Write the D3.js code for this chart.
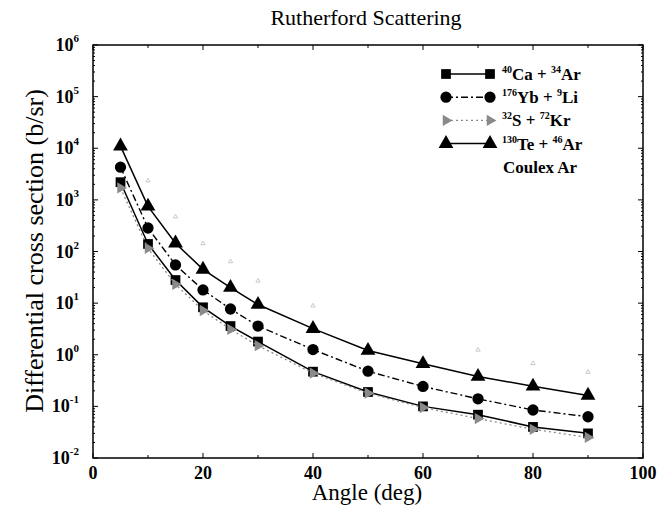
<!DOCTYPE html>
<html><head><meta charset="utf-8">
<script src="https://cdn.jsdelivr.net/npm/d3@7/dist/d3.min.js"></script>
<style>body{margin:0;background:#fff}</style>
</head><body><svg id="c" width="667" height="509" font-family="'Liberation Serif', Tinos, 'DejaVu Serif', serif"></svg>
<script>
const angles = [5,10,15,20,25,30,40,50,60,70,80,90];
const caAr = [2200,140,28,8.3,3.6,1.8,0.47,0.19,0.10,0.069,0.040,0.030];
const ybLi = [4300,285,55,18,7.7,3.6,1.26,0.48,0.243,0.14,0.085,0.063];
const sKr  = [1700,115,23,7.2,3.1,1.5,0.44,0.18,0.095,0.058,0.036,0.025];
const teAr = [11000,750,145,45,20,9.4,3.2,1.21,0.67,0.38,0.245,0.163];
const coulexAr = [null,2350,470,143,64,27,8.9,null,null,1.24,0.68,0.46];
const xTicks = [0,20,40,60,80,100];
const yExps = [-2,-1,0,1,2,3,4,5,6];

const svg = d3.select("#c");
const L=93,R=643,T=45,B=458;
const x = d3.scaleLinear().domain([0,100]).range([L,R]);
const y = d3.scaleLog().domain([1e-2,1e6]).range([B,T]);

svg.append("rect").attr("x",L).attr("y",T).attr("width",R-L).attr("height",B-T)
  .attr("fill","none").attr("stroke","#000").attr("stroke-width",1.5);

const g = svg.append("g").attr("stroke","#000").attr("stroke-width",1);
d3.range(0,101,10).forEach(v=>{
  const len = v%20===0?5:3;
  g.append("line").attr("x1",x(v)).attr("x2",x(v)).attr("y1",B).attr("y2",B-len);
  g.append("line").attr("x1",x(v)).attr("x2",x(v)).attr("y1",T).attr("y2",T+len);
});
yExps.forEach(e=>{
  const v=Math.pow(10,e);
  g.append("line").attr("x1",L).attr("x2",L+5).attr("y1",y(v)).attr("y2",y(v));
  g.append("line").attr("x1",R).attr("x2",R-5).attr("y1",y(v)).attr("y2",y(v));
  if(e<6) for(let k=2;k<10;k++){
    const vv=k*v;
    g.append("line").attr("x1",L).attr("x2",L+2).attr("y1",y(vv)).attr("y2",y(vv));
    g.append("line").attr("x1",R).attr("x2",R-2).attr("y1",y(vv)).attr("y2",y(vv));
  }
});

xTicks.forEach(v=>{
  svg.append("text").attr("x",x(v)).attr("y",479).attr("text-anchor","middle")
    .attr("font-size",18).attr("font-weight","bold").text(v);
});
yExps.forEach(e=>{
  const t = svg.append("text").attr("x",79).attr("y",y(Math.pow(10,e))+6)
    .attr("text-anchor","end").attr("font-size",18).attr("font-weight","bold");
  t.append("tspan").text("10");
  t.append("tspan").attr("font-size",11).attr("dy",-9).text(e);
});

svg.append("text").attr("x",366).attr("y",25).attr("text-anchor","middle").attr("font-size",22).text("Rutherford Scattering");
svg.append("text").attr("x",367).attr("y",500).attr("text-anchor","middle").attr("font-size",23).text("Angle (deg)");
svg.append("text").attr("transform","translate(43,251) rotate(-90)").attr("text-anchor","middle").attr("font-size",26).text("Differential cross section (b/sr)");

const series = [
  {vals:caAr, color:"#000", dash:null, sym:d3.symbolSquare, size:95, rot:0, w:1.5},
  {vals:ybLi, color:"#000", dash:"7,3,2,3", sym:d3.symbolCircle, size:100, rot:0, w:1.4},
  {vals:sKr, color:"#8a8a8a", dash:"2,3", sym:d3.symbolTriangle, size:55, rot:90, w:1.3},
  {vals:teAr, color:"#000", dash:null, sym:d3.symbolTriangle, size:95, rot:0, w:1.5}
];
const line = d3.line().defined(d=>d[1]!=null).x(d=>x(d[0])).y(d=>y(d[1]));
series.forEach(s=>{
  const pts = angles.map((a,i)=>[a,s.vals[i]]);
  svg.append("path").attr("d",line(pts)).attr("fill","none").attr("stroke",s.color)
    .attr("stroke-width",s.w).attr("stroke-dasharray",s.dash);
  svg.selectAll(null).data(pts).enter().append("path")
    .attr("d",d3.symbol().type(s.sym).size(s.size))
    .attr("transform",d=>`translate(${x(d[0])},${y(d[1])}) rotate(${s.rot})`)
    .attr("fill",s.color);
});
const cpts = angles.map((a,i)=>[a,coulexAr[i]]).filter(d=>d[1]!=null);
svg.selectAll(null).data(cpts).enter().append("path")
  .attr("d",d3.symbol().type(d3.symbolTriangle).size(8))
  .attr("transform",d=>`translate(${x(d[0])},${y(d[1])})`)
  .attr("fill","none").attr("stroke","#bbb").attr("stroke-width",0.8);

const leg = [
  {s:series[0], a:["40","Ca + ","34","Ar"]},
  {s:series[1], a:["176","Yb + ","9","Li"]},
  {s:series[2], a:["32","S + ","72","Kr"]},
  {s:series[3], a:["130","Te + ","46","Ar"]}
];
const ly0=74, ldy=23.2, lx1=446, lx2=490;
leg.forEach((l,i)=>{
  const yy = ly0+i*ldy;
  svg.append("line").attr("x1",lx1).attr("x2",lx2).attr("y1",yy).attr("y2",yy)
    .attr("stroke",l.s.color).attr("stroke-width",l.s.w).attr("stroke-dasharray",l.s.dash);
  [lx1,lx2].forEach(xx=>svg.append("path").attr("d",d3.symbol().type(l.s.sym).size(l.s.size))
    .attr("transform",`translate(${xx},${yy}) rotate(${l.s.rot})`).attr("fill",l.s.color));
  const t = svg.append("text").attr("x",502).attr("y",yy+6).attr("font-size",17).attr("font-weight","bold");
  t.append("tspan").attr("font-size",10).attr("dy",-7).text(l.a[0]);
  t.append("tspan").attr("dy",7).text(l.a[1]);
  t.append("tspan").attr("font-size",10).attr("dy",-7).text(l.a[2]);
  t.append("tspan").attr("dy",7).text(l.a[3]);
});
svg.append("text").attr("x",503).attr("y",ly0+4*ldy+6).attr("font-size",17).attr("font-weight","bold").text("Coulex Ar");
</script></body></html>
